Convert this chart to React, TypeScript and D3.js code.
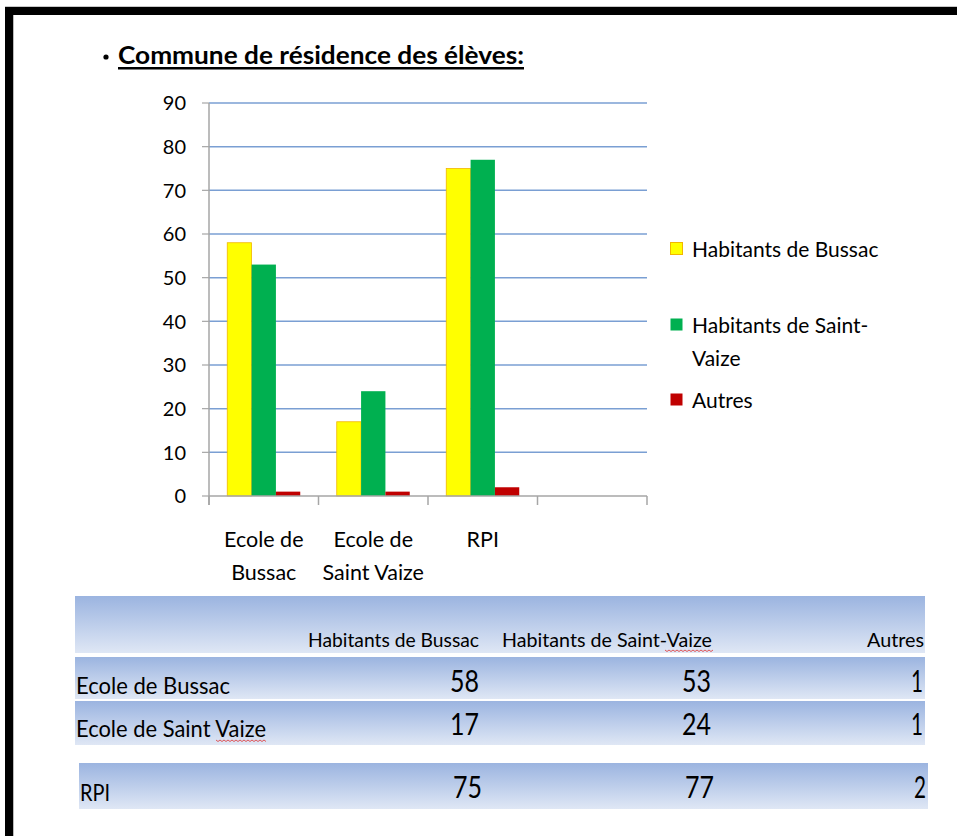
import React from "react";
import * as d3 from "d3";

const categories = ["Ecole de Bussac", "Ecole de Saint Vaize", "RPI", ""];
const categoryLines = [["Ecole de", "Bussac"], ["Ecole de", "Saint Vaize"], ["RPI"], []];
const seriesNames = ["Habitants de Bussac", "Habitants de Saint-Vaize", "Autres"];
const legendLines = [["Habitants de Bussac"], ["Habitants de Saint-", "Vaize"], ["Autres"]];
const bussac = [58, 17, 75];
const saintVaize = [53, 24, 77];
const autres = [1, 1, 2];
const yTicks = [0, 10, 20, 30, 40, 50, 60, 70, 80, 90];
const tableRowLabels = ["Ecole de Bussac", "Ecole de Saint Vaize", "RPI"];
const title = "Commune de résidence des élèves:";

const colors = ["#ffff00", "#00b050", "#c00000"];
const strokes = ["#f2b600", "#00b050", "#c00000"];
const FONT = "Lato, 'Open Sans', sans-serif";

export default function App() {
  const W = 957, H = 836;
  const left = 209, right = 647, top = 103, bottom = 496;
  const x0 = d3.scaleBand<string>().domain(categories.map((c, i) => String(i))).range([left, right]).paddingInner(0).paddingOuter(0);
  const x1 = d3.scaleBand<string>().domain(seriesNames).range([0, x0.bandwidth()]).paddingInner(0).paddingOuter(0.75);
  const y = d3.scaleLinear().domain([0, 90]).range([bottom, top]);
  const series = [bussac, saintVaize, autres];

  const boundaries = d3.range(categories.length + 1).map((i) => left + i * x0.bandwidth());

  const colRight = [479, 711, 923];
  const headerRect = { x: 75, y: 596, w: 850, h: 57 };
  const rowRects = [
    { x: 75, y: 657, w: 850, h: 42, ty: 694, ny: 692 },
    { x: 75, y: 701, w: 850, h: 44, ty: 737, ny: 735 },
    { x: 79, y: 763, w: 849, h: 46, ty: 801, ny: 798 },
  ];
  const rowShift = [0, 0, 3];
  const tableValues = categories.slice(0, 3).map((_, i) => [bussac[i], saintVaize[i], autres[i]]);

  const squiggle = (x1s: number, x2s: number, yy: number) => {
    let d = `M${x1s},${yy}`;
    for (let xx = x1s, k = 0; xx < x2s; xx += 2, k++) d += ` L${xx + 2},${yy + (k % 2 === 0 ? 1.5 : 0)}`;
    return d;
  };

  return (
    <svg width={W} height={H} style={{ position: "absolute", left: 0, top: 0, background: "#fff" }} fontFamily={FONT}>
      <defs>
        <linearGradient id="rowGrad" x1="0" y1="0" x2="0" y2="1">
          <stop offset="0" stopColor="#9bb4e0" />
          <stop offset="1" stopColor="#dfe7f5" />
        </linearGradient>
      </defs>
      <rect x={5} y={6} width={952} height={1} fill="#c8c8c8" />
      <rect x={5} y={7} width={952} height={8} fill="#000" />
      <rect x={5} y={7} width={8} height={829} fill="#000" />
      <rect x={13} y={15} width={1} height={821} fill="#bbb" />

      <circle cx={106} cy={57} r={2.6} fill="#000" />
      <text x={118} y={64} fontSize={25} fontWeight="bold" fill="#000" textLength={406} lengthAdjust="spacingAndGlyphs">{title}</text>
      <rect x={118} y={67} width={406} height={2.5} fill="#000" />

      {yTicks.map((t) => (
        <g key={t}>
          {t > 0 && <line x1={left} x2={right} y1={y(t)} y2={y(t)} stroke="#7a9fd3" strokeWidth={1.5} />}
          <line x1={202} x2={left} y1={y(t)} y2={y(t)} stroke="#a6a6a6" strokeWidth={1.2} />
          <text x={186} y={y(t)} dy="0.36em" textAnchor="end" fontSize={20} fill="#000">{t}</text>
        </g>
      ))}

      {series.map((vals, s) =>
        vals.map((v, i) => (
          <rect key={`${s}-${i}`} x={(x0(String(i)) as number) + (x1(seriesNames[s]) as number)} y={y(v)}
            width={x1.bandwidth()} height={bottom - y(v)} fill={colors[s]} stroke={strokes[s]} strokeWidth={s === 0 ? 0.8 : 0} />
        ))
      )}

      <line x1={left} x2={left} y1={top} y2={505} stroke="#a6a6a6" strokeWidth={1.5} />
      <line x1={left} x2={right} y1={bottom} y2={bottom} stroke="#a6a6a6" strokeWidth={1.5} />
      {boundaries.map((bx, i) => (
        <line key={i} x1={bx} x2={bx} y1={bottom} y2={505} stroke="#a6a6a6" strokeWidth={1.5} />
      ))}
      {categoryLines.map((lines, i) =>
        lines.map((ln, j) => (
          <text key={`${i}-${j}`} x={(x0(String(i)) as number) + x0.bandwidth() / 2} y={547 + j * 33} textAnchor="middle" fontSize={21.5} fill="#000">{ln}</text>
        ))
      )}

      {legendLines.map((lines, s) => {
        const cy = [249, 325, 400][s];
        return (
          <g key={s}>
            <rect x={670.5} y={cy - 6.5} width={12} height={12} fill={colors[s]} stroke={strokes[s]} strokeWidth={s === 0 ? 1 : 0} />
            {lines.map((ln, j) => (
              <text key={j} x={692} y={cy + j * 33} dy="0.36em" fontSize={21} fill="#000">{ln}</text>
            ))}
          </g>
        );
      })}

      <rect x={headerRect.x} y={headerRect.y} width={headerRect.w} height={headerRect.h} fill="url(#rowGrad)" />
      <text x={308} y={647} fontSize={20} fill="#000" textLength={171} lengthAdjust="spacingAndGlyphs">{seriesNames[0]}</text>
      <text x={502} y={647} fontSize={20} fill="#000" textLength={210} lengthAdjust="spacingAndGlyphs">{seriesNames[1]}</text>
      <text x={924} y={647} fontSize={20} fill="#000" textAnchor="end" textLength={57} lengthAdjust="spacingAndGlyphs">{seriesNames[2]}</text>
      <path d={squiggle(665, 712, 650)} stroke="#e03030" strokeWidth={0.8} fill="none" />
      {rowRects.map((r, i) => (
        <g key={i}>
          <rect x={r.x} y={r.y} width={r.w} height={r.h} fill="url(#rowGrad)" />
          <text x={76 + (i === 2 ? 4 : 0)} y={r.ty} fontSize={24} fill="#000"
            textLength={i === 0 ? 154 : i === 1 ? 190 : 30} lengthAdjust="spacingAndGlyphs">{tableRowLabels[i]}</text>
          {tableValues[i].map((v, c) => (
            <text key={c} x={colRight[c] + rowShift[i]} y={r.ny} fontSize={30} textAnchor="end" fill="#000"
              textLength={String(v).length === 2 ? 29 : 12} lengthAdjust="spacingAndGlyphs">{v}</text>
          ))}
        </g>
      ))}
      <path d={squiggle(216, 266, 740)} stroke="#e03030" strokeWidth={0.8} fill="none" />
    </svg>
  );
}
